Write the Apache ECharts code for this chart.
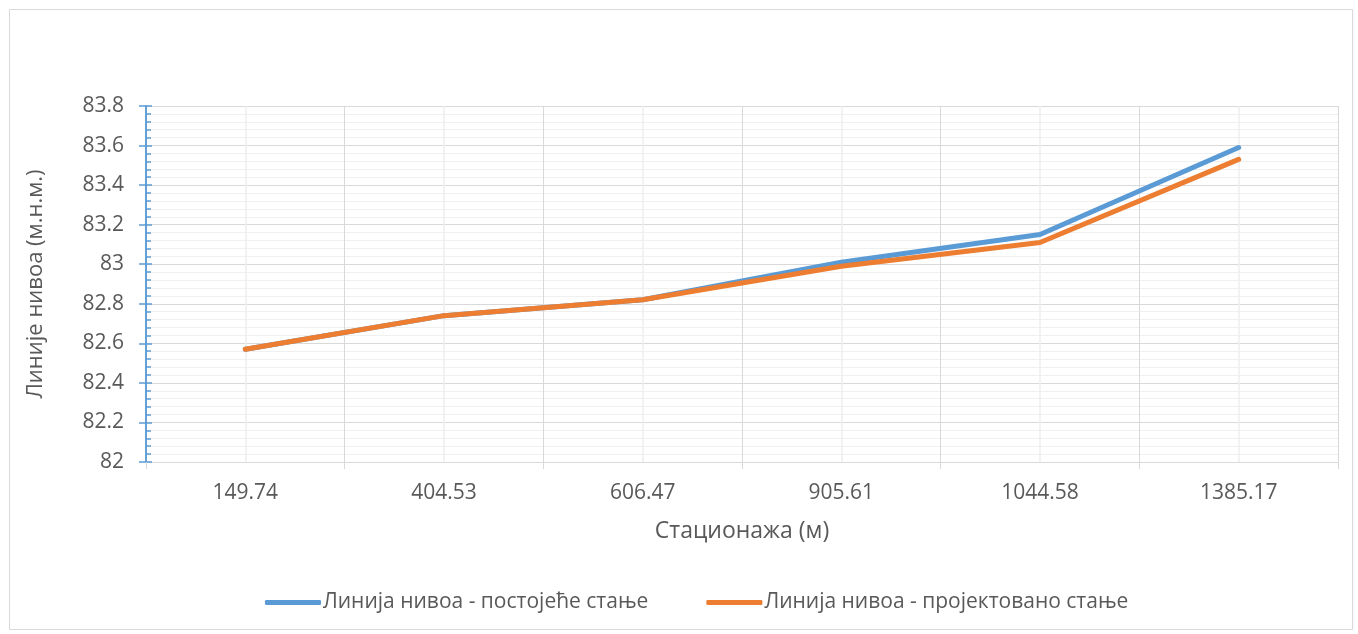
<!DOCTYPE html>
<html>
<head>
<meta charset="utf-8">
<script src="https://cdn.jsdelivr.net/npm/echarts@6/dist/echarts.min.js"></script>
<style>
html,body{margin:0;padding:0;background:#fff;}
#chart{width:1358px;height:634px;}
</style>
</head>
<body>
<div id="chart"></div>
<script>
var categories = ['149.74', '404.53', '606.47', '905.61', '1044.58', '1385.17'];
var existingLevel = [82.57, 82.74, 82.82, 83.01, 83.15, 83.59];
var projectedLevel = [82.57, 82.74, 82.82, 82.99, 83.11, 83.53];
var seriesNames = ['Линија нивоа - постојеће стање', 'Линија нивоа - пројектовано стање'];
var xTitle = 'Стационажа (м)';
var yTitle = 'Линије нивоа (м.н.м.)';

var FONT = 'Open Sans';
var TXT = '#595959';
var chart = echarts.init(document.getElementById('chart'));

var option = {
  animation: false,
  backgroundColor: '#ffffff',
  textStyle: { fontFamily: FONT },
  graphic: [{
    type: 'rect', left: 7, top: 7, silent: true, z: -10,
    shape: { width: 1343, height: 620 },
    style: { fill: 'none', stroke: '#d9d9d9', lineWidth: 1 }
  }],
  grid: { left: 146, right: 20, top: 106, bottom: 172, containLabel: false },
  legend: {
    bottom: 16,
    left: 260,
    itemGap: 58,
    itemWidth: 56,
    itemHeight: 5,
    icon: 'roundRect',
    textStyle: { fontFamily: FONT, fontSize: 21, color: TXT, padding: [0, 0, 0, -3] },
    data: seriesNames
  },
  xAxis: {
    type: 'category',
    data: categories,
    boundaryGap: true,
    name: xTitle,
    nameLocation: 'middle',
    nameGap: 58,
    nameTextStyle: { fontFamily: FONT, fontSize: 23, color: TXT },
    axisLine: { lineStyle: { color: '#d9d9d9', width: 1 } },
    axisTick: { show: true, length: 7, lineStyle: { color: '#d9d9d9' } },
    axisLabel: { margin: 21, fontFamily: FONT, fontSize: 21, color: TXT },
    splitLine: { show: true, interval: 0, lineStyle: { color: '#d9d9d9', width: 1 } }
  },
  yAxis: [{
    type: 'value',
    min: 82,
    max: 83.8,
    interval: 0.2,
    name: yTitle,
    nameLocation: 'middle',
    nameGap: 99,
    nameTextStyle: { fontFamily: FONT, fontSize: 22, color: TXT },
    axisLine: { show: true, lineStyle: { color: '#5b9bd5', width: 1.5 } },
    axisTick: { show: true, inside: true, length: 6, lineStyle: { color: '#5b9bd5', width: 1.5 } },
    minorTick: { show: true, splitNumber: 5, length: 5, lineStyle: { color: '#5b9bd5', width: 1.5 } },
    axisLabel: { margin: 22, fontFamily: FONT, fontSize: 21, color: TXT },
    splitLine: { show: true, lineStyle: { color: '#d9d9d9', width: 1 } },
    minorSplitLine: { show: true, lineStyle: { color: '#f0f0f0', width: 1 } }
  }, {
    type: 'value',
    position: 'left',
    min: 82,
    max: 83.8,
    interval: 0.2,
    axisLine: { show: true, lineStyle: { color: '#5b9bd5', width: 1.5 } },
    axisTick: { show: true, inside: false, length: 7, lineStyle: { color: '#5b9bd5', width: 1.5 } },
    axisLabel: { show: false },
    splitLine: { show: false }
  }],
  series: [{
    type: 'line',
    name: '_centers',
    data: [],
    z: 1,
    silent: true,
    markLine: {
      z: 1,
      silent: true,
      symbol: ['none', 'none'],
      label: { show: false },
      emphasis: { disabled: true },
      lineStyle: { color: '#eeeeee', width: 1.5, type: 'solid' },
      data: categories.map(function (c) { return { xAxis: c }; })
    }
  }, {
    type: 'line',
    name: seriesNames[0],
    data: existingLevel,
    showSymbol: false,
    symbol: 'none',
    color: '#5b9bd5',
    lineStyle: { width: 5, color: '#5b9bd5', cap: 'round', join: 'round' },
    z: 3
  }, {
    type: 'line',
    name: seriesNames[1],
    data: projectedLevel,
    showSymbol: false,
    symbol: 'none',
    color: '#ed7d31',
    lineStyle: { width: 5, color: '#ed7d31', cap: 'round', join: 'round' },
    z: 4
  }]
};
chart.setOption(option);
</script>
</body>
</html>
